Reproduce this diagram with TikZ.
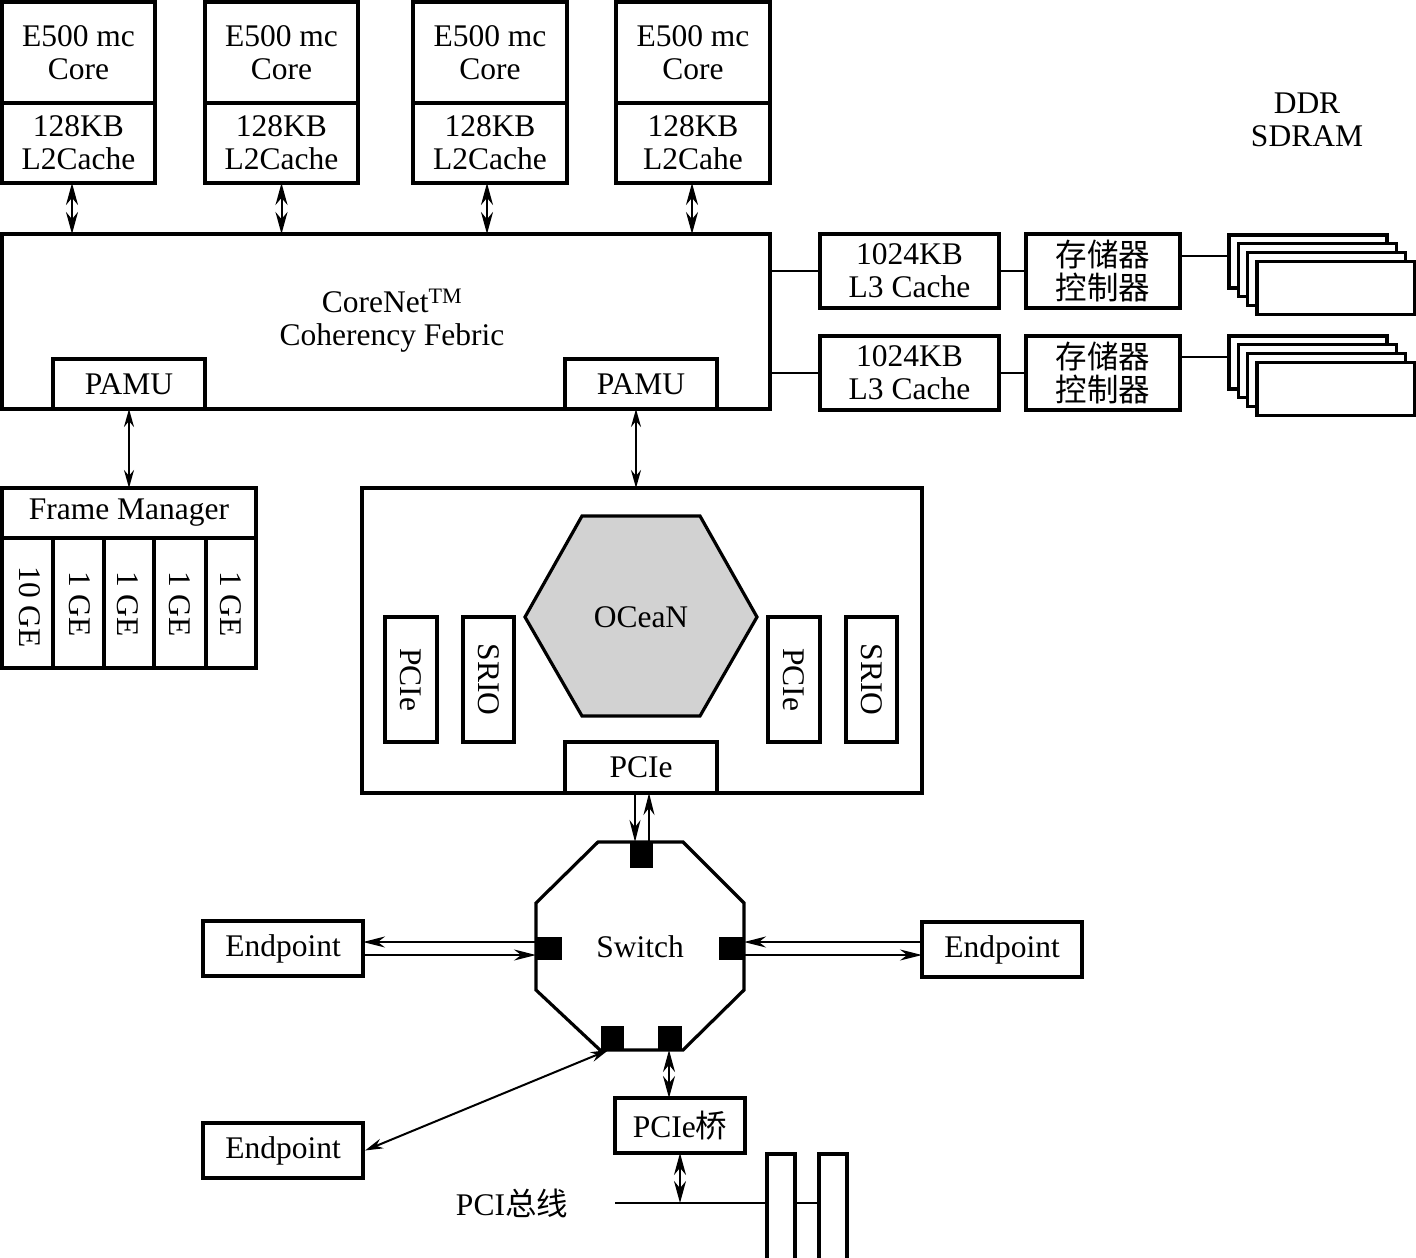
\documentclass[tikz,border=0pt]{standalone}
\usepackage{fontspec}
\setmainfont{Liberation Serif}
\newfontfamily\cjk{Noto Sans CJK SC}
\usetikzlibrary{arrows.meta}
\begin{document}
\begin{tikzpicture}[x=1pt,y=-1pt,font=\fontsize{31.5}{33}\selectfont]
\tikzset{
 box/.style={draw, line width=3.2pt, inner sep=0pt, outer sep=0pt, align=center, fill=white},
 conn/.style={line width=2pt},
 dia/.style={conn, {Stealth[length=22pt,width=12pt]}-{Stealth[length=22pt,width=12pt]}},
 dbl/.style={conn, {Stealth[length=18pt,width=10pt]}-{Stealth[length=18pt,width=10pt]}},
 one/.style={conn, -{Stealth[length=22pt,width=11pt]}},
 port/.style={fill=black, draw=none, inner sep=0pt, outer sep=0pt},
 lbl/.style={align=center, inner sep=0pt}
}
\clip (0,0) rectangle (1416,1258);
\fill[white] (0,0) rectangle (1416,1258);

% cores
\node[box, minimum width=153, minimum height=101] (coreA) at (78.5,52.5) {E500 mc\\Core};
\node[box, minimum width=153, minimum height=80] (l2A) at (78.5,143) {128KB\\L2Cache};
\node[box, minimum width=153, minimum height=101] (coreB) at (281.5,52.5) {E500 mc\\Core};
\node[box, minimum width=153, minimum height=80] (l2B) at (281.5,143) {128KB\\L2Cache};
\node[box, minimum width=154, minimum height=101] (coreC) at (490,52.5) {E500 mc\\Core};
\node[box, minimum width=154, minimum height=80] (l2C) at (490,143) {128KB\\L2Cache};
\node[box, minimum width=154, minimum height=101] (coreD) at (693,52.5) {E500 mc\\Core};
\node[box, minimum width=154, minimum height=80] (l2D) at (693,143) {128KB\\L2Cahe};

% CoreNet
\node[box, minimum width=768, minimum height=175] (cn) at (386,321.5) {};
\node[lbl] (cntext) at (392,321) {CoreNet\textsuperscript{TM}\\Coherency Febric};
\node[box, minimum width=152, minimum height=50] (pamuA) at (129,384) {PAMU};
\node[box, minimum width=152, minimum height=50] (pamuB) at (641,384) {PAMU};

\draw[dia] ([xshift=-6.5]l2A.south) -- ([xshift=-6.5]l2A.south |- cn.north);
\draw[dia] (l2B.south) -- (l2B.south |- cn.north);
\draw[dia] ([xshift=-3]l2C.south) -- ([xshift=-3]l2C.south |- cn.north);
\draw[dia] ([xshift=-1]l2D.south) -- ([xshift=-1]l2D.south |- cn.north);

% DDR
\node[lbl] (ddr) at (1307,120) {DDR\\SDRAM};
\node[box, minimum width=179, minimum height=74] (l3A) at (909.5,271) {1024KB\\L3 Cache};
\node[box, minimum width=179, minimum height=74] (l3B) at (909.5,373) {1024KB\\L3 Cache};
\node[box, minimum width=154, minimum height=74] (mcA) at (1103,271) {\cjk 存储器\\\cjk 控制器};
\node[box, minimum width=154, minimum height=74] (mcB) at (1103,373) {\cjk 存储器\\\cjk 控制器};
\foreach \k in {0,...,3} {
  \node[box, minimum width=158, minimum height=53] (dA\k) at ({1308+9.3*\k},{261.5+8.7*\k}) {};
  \node[box, minimum width=158, minimum height=53] (dB\k) at ({1308+9.3*\k},{362.5+8.7*\k}) {};
}
\draw[conn] (cn.east |- l3A.west) -- (l3A.west);
\draw[conn] (l3A.east) -- (mcA.west);
\draw[conn] ([yshift=5.5]mcA.east |- dA0.west) -- ([yshift=5.5]dA0.west);
\draw[conn] (cn.east |- l3B.west) -- (l3B.west);
\draw[conn] (l3B.east) -- (mcB.west);
\draw[conn] ([yshift=5.5]mcB.east |- dB0.west) -- ([yshift=5.5]dB0.west);

% Frame manager
\node[box, minimum width=254, minimum height=50] (fm) at (129,513) {Frame Manager};
\node[box, minimum width=51, minimum height=130] (ge0) at (27.5,603) {};
\node[box, minimum width=51, minimum height=130] (ge1) at (78.5,603) {};
\node[box, minimum width=50, minimum height=130] (ge2) at (129,603) {};
\node[box, minimum width=52, minimum height=130] (ge3) at (180,603) {};
\node[box, minimum width=50, minimum height=130] (ge4) at (231,603) {};
\node[lbl, rotate=-90] (ge0t) at (30,607) {10 GE};
\node[lbl, rotate=-90] (ge1t) at (80,604) {1 GE};
\node[lbl, rotate=-90] (ge2t) at (128,604) {1 GE};
\node[lbl, rotate=-90] (ge3t) at (180,604) {1 GE};
\node[lbl, rotate=-90] (ge4t) at (231,604) {1 GE};
\draw[dbl] (pamuA.south) -- (pamuA.south |- fm.north);

% OCeaN block
\node[box, minimum width=560, minimum height=305] (oc) at (642,640.5) {};
\draw[dbl] ([xshift=-5]pamuB.south) -- ([xshift=-5]pamuB.south |- oc.north);
\draw[line width=3.2pt, fill=gray!35] (525,617) -- (582,516) -- (700,516) -- (757,617) -- (700,716) -- (582,716) -- cycle;
\node[lbl] (ocean) at (641,617) {OCeaN};
\node[box, minimum width=52, minimum height=125] (pcA) at (411,679.5) {};
\node[box, minimum width=51, minimum height=125] (srA) at (488.5,679.5) {};
\node[box, minimum width=52, minimum height=125] (pcB) at (794,679.5) {};
\node[box, minimum width=51, minimum height=125] (srB) at (871.5,679.5) {};
\node[lbl, rotate=-90] (pcAt) at (411,679.5) {PCIe};
\node[lbl, rotate=-90] (srAt) at (488.5,679.5) {SRIO};
\node[lbl, rotate=-90] (pcBt) at (794,679.5) {PCIe};
\node[lbl, rotate=-90] (srBt) at (871.5,679.5) {SRIO};
\node[box, minimum width=152, minimum height=51] (pcie) at (641,767.5) {PCIe};

% Switch
\draw[line width=3.2pt] (598,842) -- (683,842) -- (744,903) -- (744,990) -- (683,1050) -- (600,1050) -- (536,990) -- (536,903) -- cycle;
\node[lbl] (sw) at (640,947) {Switch};
\node[port, minimum width=23, minimum height=26] (pT) at (641.5,855) {};
\node[port, minimum width=26, minimum height=23] (pL) at (549,948.5) {};
\node[port, minimum width=25, minimum height=23] (pR) at (731.5,948.5) {};
\node[port, minimum width=23, minimum height=24] (pBL) at (612.5,1038) {};
\node[port, minimum width=24, minimum height=24] (pBR) at (670,1038) {};

\draw[one] ([xshift=-6]pcie.south) -- ([xshift=-6]pcie.south |- pT.north);
\draw[one] ([xshift=8]pcie.south |- pT.north) -- ([xshift=8]pcie.south);

\node[box, minimum width=160, minimum height=55] (epL) at (283,948.5) {Endpoint};
\node[box, minimum width=160, minimum height=55] (epR) at (1002,949.5) {Endpoint};
\node[box, minimum width=160, minimum height=55] (epB) at (283,1150.5) {Endpoint};

\draw[one] ([yshift=6.5]pL.west) -- ([yshift=6.5]epL.east |- pL.west);
\draw[one] ([yshift=-6.5]epL.east |- pL.west) -- ([yshift=-6.5]pL.west);
\draw[one] ([yshift=6.5]epR.west |- pR.east) -- ([yshift=6.5]pR.east);
\draw[one] ([yshift=-6.5]pR.east) -- ([yshift=-6.5]epR.west |- pR.east);
\draw[dbl] ([xshift=2]epB.east) -- ([xshift=-4]pBL.south);

% PCIe bridge and PCI bus
\node[box, minimum width=130, minimum height=55] (br) at (680,1125.5) {PCIe{\cjk 桥}};
\draw[dia] ([xshift=-1]pBR.south) -- ([xshift=-1]pBR.south |- br.north);
\node[box, minimum width=28, minimum height=112] (cdA) at (781,1210) {};
\node[box, minimum width=28, minimum height=112] (cdB) at (833,1210) {};
\coordinate (busL) at (615,1203);
\draw[conn] (busL) -- (cdA.west |- busL);
\draw[conn] (cdA.east |- busL) -- (cdB.west |- busL);
\draw[dia] (br.south) -- (br.south |- busL);
\node[lbl] (pcibus) at (512,1203) {PCI{\cjk 总线}};
\end{tikzpicture}
\end{document}
